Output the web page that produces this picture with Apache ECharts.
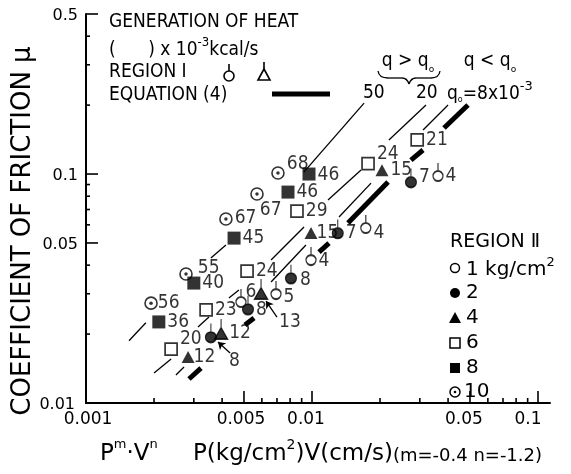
<!DOCTYPE html>
<html><head><meta charset="utf-8">
<script src="https://cdn.jsdelivr.net/npm/echarts@6/dist/echarts.min.js"></script>
<style>html,body{margin:0;padding:0;background:#fff}#c{width:571px;height:474px}</style>
</head><body><div id="c"></div><script>
// ---------- data ----------
const xRange = [0.001, 0.113];
const yRange = [0.01, 0.5];
const xTickMajor = [0.005, 0.01, 0.05, 0.1];
const xTickMinor = [0.002, 0.003, 0.004, 0.006, 0.007, 0.008, 0.009, 0.02, 0.03, 0.04, 0.06, 0.07, 0.08, 0.09];
const xTickLabels = [0.001, 0.005, 0.01, 0.05, 0.1];
const yTickMajor = [0.5, 0.1, 0.05];
const yTickMinor = [0.4, 0.3, 0.2, 0.09, 0.08, 0.07, 0.06, 0.04, 0.03, 0.02];
const yTickLabels = [0.5, 0.1, 0.05, 0.01];

// region II points  [x, mu, generation of heat label]
const p10 = [[0.00707,0.101,'68'],[0.00571,0.0818,'67'],[0.00416,0.0636,'67'],[0.00277,0.0366,'55'],[0.00194,0.0273,'56']];
const p8  = [[0.0097,0.100,'46'],[0.00783,0.0834,'46'],[0.00452,0.0525,'45'],[0.00300,0.0334,'40'],[0.00210,0.0226,'36']];
const p6  = [[0.0292,0.141,'21'],[0.0177,0.111,'24'],[0.00858,0.0689,'29'],[0.00516,0.0377,'24'],[0.0034,0.0255,'23'],[0.00238,0.0172,'20']];
const p4  = [[0.0204,0.104,'15'],[0.0099,0.0553,'15'],[0.00283,0.0159,'12']];
// region I points
const p4I = [[0.00595,0.0302,'13'],[0.00396,0.0202,'12']];
const p2I = [[0.0274,0.0923,'7'],[0.0130,0.0553,'7'],[0.00807,0.0351,'8'],[0.00521,0.0257,'8'],[0.00357,0.0194,'8']];
const p1I = [[0.0361,0.098,'4'],[0.0173,0.0581,'4'],[0.0099,0.0421,'4'],[0.00693,0.0299,'5'],[0.00485,0.0276,'6']];

// equation (4) lines, drawn pieces [x1,y1,x2,y2]
const line50 = [[0.00155,0.0187,0.00184,0.0224],[0.00357,0.0430,0.00416,0.0490],[0.0092,0.102,0.0170,0.204]];
const line20 = [[0.0020,0.01352,0.00238,0.01556],[0.00313,0.02148,0.0035,0.02374],[0.00429,0.02874,0.00475,0.03114],
                [0.00659,0.0421,0.00922,0.0587],[0.01177,0.0770,0.01648,0.1041],[0.0219,0.1408,0.03195,0.2001]];
const lineQ0 = [[0.0025,0.01325,0.002715,0.01436],[0.00659,0.03376,0.0094,0.04898],[0.01317,0.0649,0.01825,0.0913],[0.031,0.1556,0.040,0.2001]];
const lineThick = [[0.002856,0.01273,0.003227,0.01421],[0.005052,0.0219,0.00554,0.0235],[0.01074,0.04564,0.01189,0.04997],
                   [0.01443,0.0611,0.0217,0.0923],[0.0274,0.1151,0.031,0.1273],[0.03838,0.1588,0.049,0.2001]];
// pointer arrows [fromX, fromY, toX, toY]
const arrows = [[0.0070,0.02374,0.00626,0.02788],[0.00434,0.01653,0.003838,0.01847]];

// ---------- styling (label nudges, px) ----------
const off10 = [[0,-9],[-6,16],[0,-1],[3,-6],[-2,0]];
const off8  = [[0,1],[0,0],[0,0],[0,0],[0,0]];
const off6  = [[0,0],[0,-10],[0,0],[0,0],[0,0],[0,-10]];
const off4  = [[0,0],[-3,0],[-3,0]];
const off4I = [[9,29],[-1,0]];
const off2I = [[0,-5],[0,0],[1,2],[0,1],[10,24]];
const off1I = [[0,0],[0,5],[0,1],[0,3],[-3,-10]];
const xLabNudge = [2,-3,-6,-6,-10];
const yLabNudge = [0,0,0,-3];

const F = "'DejaVu Sans', sans-serif";
const FN = "'Liberation Sans Narrow','DejaVu Sans Condensed','Liberation Sans',sans-serif";
const LABEL_FONT = '19px ' + FN;

const stemCircle = 'path://M0,13a5,5 0 1,0 10,0a5,5 0 1,0 -10,0z M5,8 L5,0';
const stemTri = 'path://M0,19 L6,8 L12,19 Z M6,8 L6,0';

function pts(arr, offs, stem) {
  return arr.map((d, i) => ({
    value: [d[0], d[1]], name: d[2],
    label: { offset: [offs[i][0], offs[i][1] + (stem ? 4 : 0)] }
  }));
}
function segs(arr) { return arr.map(s => ({ coords: [[s[0], s[1]], [s[2], s[3]]] })); }

const lbl = { show: true, formatter: '{b}', position: 'right', distance: 2, color: '#000', fontSize: 19, fontFamily: FN };
const blk = '#000';

function tickLabelSeries(vals, isX, nudge) {
  return {
    type: 'custom', coordinateSystem: 'cartesian2d', clip: false, silent: true, z: 6,
    data: vals.map(v => isX ? [v, yRange[0]] : [xRange[0], v]),
    renderItem: (p, api) => {
      const c = api.coord([api.value(0), api.value(1)]);
      const v = isX ? api.value(0) : api.value(1);
      return isX ? { type: 'text', x: c[0] + nudge[p.dataIndex], y: c[1] + 17, style: { text: String(v), font: '17px ' + F, fill: blk, align: 'center', verticalAlign: 'middle' } }
                 : { type: 'text', x: c[0] - 8 + nudge[p.dataIndex], y: c[1] + 2, style: { text: String(v), font: '16px ' + F, fill: blk, align: 'right', verticalAlign: 'middle' } };
    }
  };
}

const series = [
  { type: 'lines', coordinateSystem: 'cartesian2d', polyline: false, silent: true, z: 2, data: segs(line50), lineStyle: { color: blk, width: 1.3, opacity: 1 } },
  { type: 'lines', coordinateSystem: 'cartesian2d', polyline: false, silent: true, z: 2, data: segs(line20), lineStyle: { color: blk, width: 1.3, opacity: 1 } },
  { type: 'lines', coordinateSystem: 'cartesian2d', polyline: false, silent: true, z: 2, data: segs(lineQ0), lineStyle: { color: blk, width: 1.3, opacity: 1 } },
  { type: 'lines', coordinateSystem: 'cartesian2d', polyline: false, silent: true, z: 2, data: segs(lineThick), lineStyle: { color: blk, width: 5, opacity: 1, cap: 'butt' } },
  { type: 'lines', coordinateSystem: 'cartesian2d', polyline: false, silent: true, z: 2, data: segs(arrows), symbol: ['none', 'arrow'], symbolSize: 7, lineStyle: { color: blk, width: 1.3, opacity: 1 } },
  { type: 'scatter', z: 4, symbol: 'circle', symbolSize: 12, itemStyle: { color: '#fff', borderColor: blk, borderWidth: 1.6 }, label: lbl, data: pts(p10, off10, false) },
  { type: 'scatter', z: 5, symbol: 'circle', symbolSize: 3.5, itemStyle: { color: blk }, data: p10.map(d => [d[0], d[1]]) },
  { type: 'scatter', z: 4, symbol: 'rect', symbolSize: 13, itemStyle: { color: blk }, label: lbl, data: pts(p8, off8, false) },
  { type: 'scatter', z: 4, symbol: 'rect', symbolSize: 12, itemStyle: { color: '#fff', borderColor: blk, borderWidth: 1.7 }, label: lbl, data: pts(p6, off6, false) },
  { type: 'scatter', z: 4, symbol: 'triangle', symbolSize: [13, 12], itemStyle: { color: blk }, label: lbl, data: pts(p4, off4, false) },
  { type: 'scatter', z: 4, symbol: stemTri, symbolSize: [13, 20], symbolOffset: [0, -4], itemStyle: { color: blk, borderColor: blk, borderWidth: 1.4 }, label: lbl, data: pts(p4I, off4I, true) },
  { type: 'scatter', z: 4, symbol: stemCircle, symbolSize: [11, 19], symbolOffset: [0, -4], itemStyle: { color: blk, borderColor: blk, borderWidth: 1.4 }, label: lbl, data: pts(p2I, off2I, true) },
  { type: 'scatter', z: 4, symbol: stemCircle, symbolSize: [10, 18], symbolOffset: [0, -4], itemStyle: { color: '#fff', borderColor: blk, borderWidth: 1.6 }, label: lbl, data: pts(p1I, off1I, true) },
  tickLabelSeries(xTickLabels, true, xLabNudge), tickLabelSeries(yTickLabels, false, yLabNudge)
];

// ---------- annotations ----------
const T = (x, y, text, font) => ({ type: 'text', x, y, style: { text, font, fill: blk, align: 'left', verticalAlign: 'middle' } });
const hdr = '19px ' + FN;
const braceStyle = { fill: null, stroke: blk, lineWidth: 1.3 };
const LG = '20px ' + F;
const graphic = [
  { type: 'text', x: 23, y: 231, rotation: Math.PI / 2, style: { text: 'COEFFICIENT OF FRICTION μ', font: '26px ' + F, fill: blk, align: 'center', verticalAlign: 'middle' } },
  { type: 'text', x: 100, y: 452, style: { text: '{b|P}{s|m}{b|·V}{s|n}', fill: blk, verticalAlign: 'middle',
      rich: { b: { font: '23px ' + F, verticalAlign: 'bottom', lineHeight: 27 }, s: { font: '13px ' + F, verticalAlign: 'top', lineHeight: 27 } } } },
  { type: 'text', x: 193, y: 452, style: { text: '{b|P(kg/cm}{s|2}{b|)V(cm/s)}{m|(m=-0.4 n=-1.2)}', fill: blk, verticalAlign: 'middle',
      rich: { b: { font: '23px ' + F, verticalAlign: 'bottom', lineHeight: 27 }, s: { font: '14px ' + F, verticalAlign: 'top', lineHeight: 27 }, m: { font: '18px ' + F, verticalAlign: 'bottom', lineHeight: 25 } } } },
  T(109, 22, 'GENERATION OF HEAT', hdr),
  { type: 'text', x: 109, y: 48, style: { text: '{b|(      ) x 10}{s|-3}{b|kcal/s}', fill: blk, verticalAlign: 'middle',
      rich: { b: { font: hdr, verticalAlign: 'bottom', lineHeight: 24 }, s: { font: '13px ' + FN, verticalAlign: 'top', lineHeight: 24 } } } },
  T(109, 72, 'REGION I', hdr),
  { type: 'circle', shape: { cx: 229, cy: 76, r: 5 }, style: { fill: '#fff', stroke: blk, lineWidth: 1.6 } },
  { type: 'line', shape: { x1: 229, y1: 71, x2: 229, y2: 64 }, style: { stroke: blk, lineWidth: 1.6 } },
  { type: 'polygon', shape: { points: [[258, 80], [264, 69], [270, 80]] }, style: { fill: '#fff', stroke: blk, lineWidth: 1.6 } },
  { type: 'line', shape: { x1: 264, y1: 69, x2: 264, y2: 62 }, style: { stroke: blk, lineWidth: 1.6 } },
  T(109, 95, 'EQUATION (4)', hdr),
  { type: 'line', shape: { x1: 272, y1: 94, x2: 330, y2: 94 }, style: { stroke: blk, lineWidth: 5 } },
  { type: 'text', x: 408, y: 63, style: { text: '{b|q > q}{o|o}', fill: blk, align: 'center', verticalAlign: 'middle',
      rich: { b: { font: hdr, verticalAlign: 'top', lineHeight: 22 }, o: { font: '9px ' + F, verticalAlign: 'bottom', lineHeight: 22 } } } },
  { type: 'bezierCurve', shape: { x1: 378, y1: 71, x2: 388, y2: 78, cpx1: 379, cpy1: 78 }, style: braceStyle },
  { type: 'line', shape: { x1: 388, y1: 78, x2: 402, y2: 78 }, style: braceStyle },
  { type: 'bezierCurve', shape: { x1: 402, y1: 78, x2: 409, y2: 84, cpx1: 407, cpy1: 78 }, style: braceStyle },
  { type: 'bezierCurve', shape: { x1: 409, y1: 84, x2: 416, y2: 78, cpx1: 411, cpy1: 78 }, style: braceStyle },
  { type: 'line', shape: { x1: 416, y1: 78, x2: 431, y2: 78 }, style: braceStyle },
  { type: 'bezierCurve', shape: { x1: 431, y1: 78, x2: 440, y2: 71, cpx1: 439, cpy1: 78 }, style: braceStyle },
  { type: 'text', x: 490, y: 63, style: { text: '{b|q < q}{o|o}', fill: blk, align: 'center', verticalAlign: 'middle',
      rich: { b: { font: hdr, verticalAlign: 'top', lineHeight: 22 }, o: { font: '9px ' + F, verticalAlign: 'bottom', lineHeight: 22 } } } },
  T(363, 93, '50', LABEL_FONT),
  T(416, 93, '20', LABEL_FONT),
  { type: 'text', x: 447, y: 92, style: { text: '{b|q}{o|o}{b|=8x10}{s|-3}', fill: blk, verticalAlign: 'middle',
      rich: { b: { font: LABEL_FONT, verticalAlign: 'bottom', lineHeight: 24 }, o: { font: '8px ' + F, verticalAlign: 'bottom', lineHeight: 20 }, s: { font: '13px ' + F, verticalAlign: 'top', lineHeight: 24 } } } },
  T(450, 242, 'REGION Ⅱ', '19px ' + F),
  { type: 'circle', shape: { cx: 455, cy: 268, r: 4.5 }, style: { fill: '#fff', stroke: blk, lineWidth: 1.5 } },
  { type: 'text', x: 466, y: 268, style: { text: '{b|1 kg/cm}{s|2}', fill: blk, verticalAlign: 'middle',
      rich: { b: { font: LG, verticalAlign: 'bottom', lineHeight: 24 }, s: { font: '13px ' + F, verticalAlign: 'top', lineHeight: 24 } } } },
  { type: 'circle', shape: { cx: 455, cy: 293, r: 5 }, style: { fill: blk } },
  T(466, 293, '2', LG),
  { type: 'polygon', shape: { points: [[449, 323], [455, 312], [461, 323]] }, style: { fill: blk } },
  T(466, 318, '4', LG),
  { type: 'rect', shape: { x: 450, y: 338, width: 10, height: 10 }, style: { fill: '#fff', stroke: blk, lineWidth: 1.5 } },
  T(466, 343, '6', LG),
  { type: 'rect', shape: { x: 450, y: 363, width: 10, height: 10 }, style: { fill: blk } },
  T(466, 368, '8', LG),
  { type: 'circle', shape: { cx: 455, cy: 392, r: 5 }, style: { fill: '#fff', stroke: blk, lineWidth: 1.5 } },
  { type: 'circle', shape: { cx: 455, cy: 392, r: 1.3 }, style: { fill: blk } },
  T(464, 392, '10', LG)
];

const axisBase = (range) => ({
  type: 'log', logBase: 10, min: range[0], max: range[1],
  axisLine: { onZero: false, lineStyle: { color: blk, width: 2 } },
  axisTick: { show: false }, axisLabel: { show: false }, splitLine: { show: false }
});

const chart = echarts.init(document.getElementById('c'));
chart.setOption({
  animation: false,
  backgroundColor: '#fff',
  grid: { left: 86, right: 21, top: 14, bottom: 71 },
  xAxis: axisBase(xRange),
  yAxis: axisBase(yRange),
  series
});

// tick marks placed through the axes' own scales
const ticks = [];
const y0 = chart.convertToPixel({ yAxisIndex: 0 }, yRange[0]);
const x0 = chart.convertToPixel({ xAxisIndex: 0 }, xRange[0]);
function addX(vals, len) { vals.forEach(v => { const px = chart.convertToPixel({ xAxisIndex: 0 }, v);
  ticks.push({ type: 'line', z: 10, shape: { x1: px, y1: y0, x2: px, y2: y0 - len }, style: { stroke: blk, lineWidth: 1.6 } }); }); }
function addY(vals, len) { vals.forEach(v => { const py = chart.convertToPixel({ yAxisIndex: 0 }, v);
  ticks.push({ type: 'line', z: 10, shape: { x1: x0, y1: py, x2: x0 + len, y2: py }, style: { stroke: blk, lineWidth: 1.6 } }); }); }
addX(xTickMajor, 12); addX(xTickMinor, 5); addY(yTickMajor, 12); addY(yTickMinor, 4);
chart.setOption({ graphic: graphic.concat(ticks) });
</script></body></html>
